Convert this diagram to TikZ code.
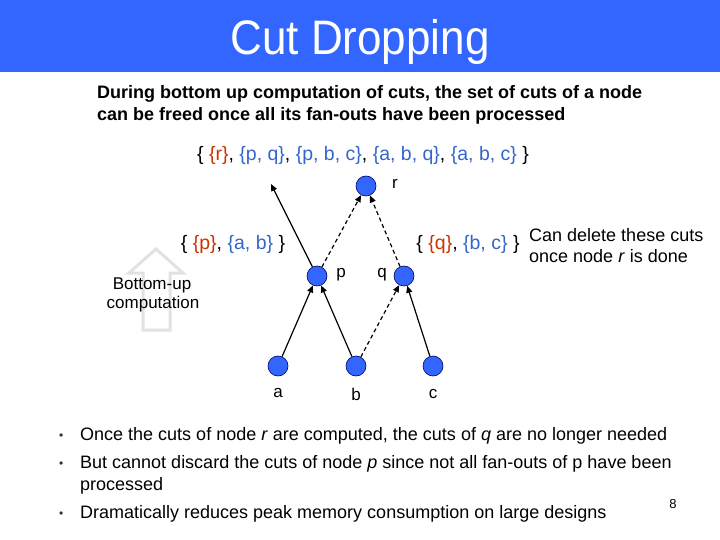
\documentclass[tikz,border=0pt]{standalone}
\usepackage{fontspec}
\setmainfont{Liberation Sans}
\usetikzlibrary{arrows.meta}
\definecolor{barblue}{HTML}{3366FF}
\definecolor{nodeblue}{HTML}{3366FF}
\definecolor{cutred}{HTML}{CC3300}
\definecolor{cutblue}{HTML}{3366CC}
\definecolor{hollow}{HTML}{E2E2E2}
\tikzset{
  gnode/.style={circle, fill=nodeblue, draw=blue!40!black, line width=0.6pt, minimum size=20pt, inner sep=0pt},
  lbl/.style={font=\fontsize{17}{20}\selectfont, inner sep=0pt, anchor=base},
  cutset/.style={font=\fontsize{19.5}{22}\selectfont, inner sep=0pt, anchor=base},
  txt/.style={font=\fontsize{18}{21}\selectfont, inner sep=0pt, anchor=base west},
  dot/.style={font=\fontsize{12}{14}\selectfont, inner sep=0pt, anchor=base west, text=black!80},
  edge/.style={line width=1.2pt, -{Triangle[length=7pt,width=6pt]}},
  dedge/.style={edge, dash pattern=on 4pt off 3pt},
}
\newcommand{\rc}[1]{\textcolor{cutred}{#1}}
\newcommand{\bc}[1]{\textcolor{cutblue}{#1}}
\begin{document}
\begin{tikzpicture}[x=1pt,y=-1pt]
\useasboundingbox (0,0) rectangle (720,540);
\fill[white] (0,0) rectangle (720,540);
\fill[barblue] (0,0) rectangle (720,72);
\node[inner sep=0pt, text=white, font=\fontsize{44}{50}\selectfont, anchor=base] (title) at (360,55) {\scalebox{1}[1.1]{Cut Dropping}};

\node[txt, font=\bfseries\fontsize{18}{21}\selectfont] (s1) at (97,99) {During bottom up computation of cuts, the set of cuts of a node};
\node[txt, font=\bfseries\fontsize{18}{21}\selectfont] (s2) at (97,121) {can be freed once all its fan-outs have been processed};

\node[cutset] (cuts) at (363,161) {\{ \rc{\{r\}}, \bc{\{p, q\}}, \bc{\{p, b, c\}}, \bc{\{a, b, q\}}, \bc{\{a, b, c\}} \}};

% hollow arrow
\draw[hollow, line width=3pt, line join=miter] (156,249) -- (183,273) -- (170,273) -- (170,330) -- (143,330) -- (143,273) -- (129,273) -- cycle;
\node[lbl] (bu1) at (152,289) {Bottom-up};
\node[lbl] (bu2) at (153,308) {computation};

\node[gnode] (r) at (366,186) {};
\node[gnode] (p) at (317,276) {};
\node[gnode] (q) at (404,276) {};
\node[gnode] (a) at (278,366) {};
\node[gnode] (b) at (356,366) {};
\node[gnode] (c) at (433,366) {};
\coordinate (fo) at (271,184);

\node[lbl] (lr) at (395,189) {r};
\node[lbl] (lp) at (341,277) {p};
\node[lbl] (lq) at (382,277) {q};
\node[lbl] (la) at (278,397) {a};
\node[lbl] (lb) at (356,400) {b};
\node[lbl] (lc) at (433,398) {c};

\node[cutset] (pc) at (233,249) {\{ \rc{\{p\}}, \bc{\{a, b\}} \}};
\node[cutset] (qc) at (468,249) {\{ \rc{\{q\}}, \bc{\{b, c\}} \}};
\node[txt] (del1) at (529,241) {Can delete these cuts};
\node[txt] (del2) at (529,262) {once node \textit{r} is done};

\draw[edge] (a) -- (p);
\draw[edge] (b) -- (p);
\draw[dedge] (b) -- (q);
\draw[edge] (c) -- (q);
\draw[dedge] (p) -- (r);
\draw[dedge] (q) -- (r);
\draw[edge] (p) -- (fo);

\node[dot] (b1d) at (59,439) {•};
\node[txt] (b1) at (80,440) {Once the cuts of node \textit{r} are computed, the cuts of \textit{q} are no longer needed};
\node[dot] (b2d) at (59,467) {•};
\node[txt] (b2) at (80,468) {But cannot discard the cuts of node \textit{p} since not all fan-outs of p have been};
\node[txt] (b2b) at (80,490) {processed};
\node[dot] (b3d) at (59,517) {•};
\node[txt] (b3) at (80,518) {Dramatically reduces peak memory consumption on large designs};
\node[lbl, font=\fontsize{13}{15}\selectfont] (pg) at (673,508) {8};
\end{tikzpicture}
\end{document}
